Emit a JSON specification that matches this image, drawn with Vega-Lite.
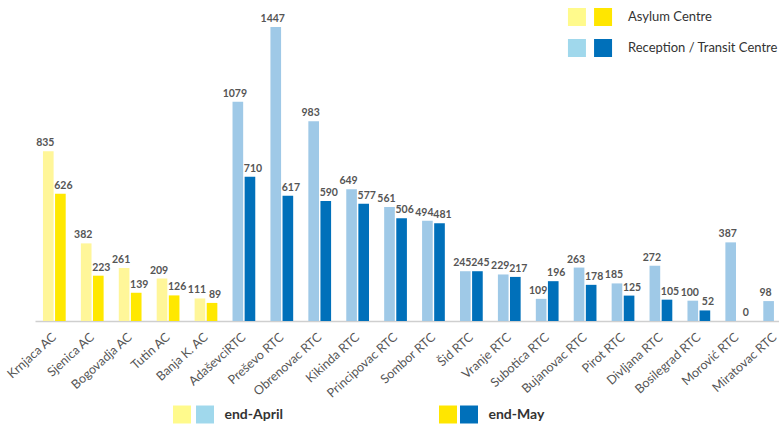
{
  "$schema": "https://vega.github.io/schema/vega-lite/v6.json",
  "autosize": {"type": "none"},
  "width": 744,
  "height": 294,
  "padding": {"left": 35, "top": 27, "right": 0, "bottom": 104},
  "background": "white",
  "config": {"view": {"stroke": null}, "font": "Lato"},
  "data": {"values": [
    {"centre": "Krnjaca AC", "type": "Asylum Centre", "period": "end-April", "value": 835},
    {"centre": "Krnjaca AC", "type": "Asylum Centre", "period": "end-May", "value": 626},
    {"centre": "Sjenica AC", "type": "Asylum Centre", "period": "end-April", "value": 382},
    {"centre": "Sjenica AC", "type": "Asylum Centre", "period": "end-May", "value": 223},
    {"centre": "Bogovadja AC", "type": "Asylum Centre", "period": "end-April", "value": 261},
    {"centre": "Bogovadja AC", "type": "Asylum Centre", "period": "end-May", "value": 139},
    {"centre": "Tutin AC", "type": "Asylum Centre", "period": "end-April", "value": 209},
    {"centre": "Tutin AC", "type": "Asylum Centre", "period": "end-May", "value": 126},
    {"centre": "Banja K. AC", "type": "Asylum Centre", "period": "end-April", "value": 111},
    {"centre": "Banja K. AC", "type": "Asylum Centre", "period": "end-May", "value": 89},
    {"centre": "AdaševciRTC", "type": "Reception / Transit Centre", "period": "end-April", "value": 1079},
    {"centre": "AdaševciRTC", "type": "Reception / Transit Centre", "period": "end-May", "value": 710},
    {"centre": "Preševo RTC", "type": "Reception / Transit Centre", "period": "end-April", "value": 1447},
    {"centre": "Preševo RTC", "type": "Reception / Transit Centre", "period": "end-May", "value": 617},
    {"centre": "Obrenovac RTC", "type": "Reception / Transit Centre", "period": "end-April", "value": 983},
    {"centre": "Obrenovac RTC", "type": "Reception / Transit Centre", "period": "end-May", "value": 590},
    {"centre": "Kikinda RTC", "type": "Reception / Transit Centre", "period": "end-April", "value": 649},
    {"centre": "Kikinda RTC", "type": "Reception / Transit Centre", "period": "end-May", "value": 577},
    {"centre": "Principovac RTC", "type": "Reception / Transit Centre", "period": "end-April", "value": 561},
    {"centre": "Principovac RTC", "type": "Reception / Transit Centre", "period": "end-May", "value": 506},
    {"centre": "Sombor RTC", "type": "Reception / Transit Centre", "period": "end-April", "value": 494},
    {"centre": "Sombor RTC", "type": "Reception / Transit Centre", "period": "end-May", "value": 481},
    {"centre": "Šid RTC", "type": "Reception / Transit Centre", "period": "end-April", "value": 245},
    {"centre": "Šid RTC", "type": "Reception / Transit Centre", "period": "end-May", "value": 245},
    {"centre": "Vranje RTC", "type": "Reception / Transit Centre", "period": "end-April", "value": 229},
    {"centre": "Vranje RTC", "type": "Reception / Transit Centre", "period": "end-May", "value": 217},
    {"centre": "Subotica RTC", "type": "Reception / Transit Centre", "period": "end-April", "value": 109},
    {"centre": "Subotica RTC", "type": "Reception / Transit Centre", "period": "end-May", "value": 196},
    {"centre": "Bujanovac RTC", "type": "Reception / Transit Centre", "period": "end-April", "value": 263},
    {"centre": "Bujanovac RTC", "type": "Reception / Transit Centre", "period": "end-May", "value": 178},
    {"centre": "Pirot RTC", "type": "Reception / Transit Centre", "period": "end-April", "value": 185},
    {"centre": "Pirot RTC", "type": "Reception / Transit Centre", "period": "end-May", "value": 125},
    {"centre": "Divljana RTC", "type": "Reception / Transit Centre", "period": "end-April", "value": 272},
    {"centre": "Divljana RTC", "type": "Reception / Transit Centre", "period": "end-May", "value": 105},
    {"centre": "Bosilegrad RTC", "type": "Reception / Transit Centre", "period": "end-April", "value": 100},
    {"centre": "Bosilegrad RTC", "type": "Reception / Transit Centre", "period": "end-May", "value": 52},
    {"centre": "Morović RTC", "type": "Reception / Transit Centre", "period": "end-April", "value": 387},
    {"centre": "Morović RTC", "type": "Reception / Transit Centre", "period": "end-May", "value": 0},
    {"centre": "Miratovac RTC", "type": "Reception / Transit Centre", "period": "end-April", "value": 98},
    {"centre": "Miratovac RTC", "type": "Reception / Transit Centre", "period": "end-May", "value": 0}
  ]},
  "transform": [{"calculate": "datum.type + ' ' + datum.period", "as": "series"}],
  "encoding": {
    "x": {
      "field": "centre", "type": "nominal", "sort": null,
      "scale": {"range": [0, 759], "paddingInner": 0.4, "paddingOuter": 0.21},
      "axis": {"title": null, "labelAngle": -42, "labelAlign": "right", "labelBaseline": "middle",
               "ticks": false, "domainColor": "#cfcfcf", "domainWidth": 1.5, "labelColor": "#555555",
               "labelFontSize": 12.5, "labelPadding": 14, "labelFont": "Lato"}
    },
    "xOffset": {"field": "period", "type": "nominal", "scale": {"domain": ["end-April", "end-May"], "paddingInner": 0.12}},
    "y": {"field": "value", "type": "quantitative", "scale": {"domain": [0, 1447], "nice": false}, "axis": null}
  },
  "layer": [
    {
      "mark": {"type": "bar"},
      "encoding": {
        "color": {
          "field": "series", "type": "nominal",
          "scale": {
            "domain": ["Asylum Centre end-April", "Asylum Centre end-May", "Reception / Transit Centre end-April", "Reception / Transit Centre end-May"],
            "range": ["#FFF699", "#FFE800", "#9FC9E7", "#0070BA"]
          },
          "legend": null
        }
      }
    },
    {
      "transform": [{"filter": "datum.period === 'end-April'"}],
      "mark": {"type": "text", "dy": -8, "dx": -3, "fontSize": 10.5, "fontWeight": "bold", "color": "#555555", "font": "Lato"},
      "encoding": {"text": {"field": "value", "type": "quantitative"}}
    },
    {
      "transform": [{"filter": "datum.period === 'end-May'"}],
      "mark": {"type": "text", "dy": -8, "dx": 3, "fontSize": 10.5, "fontWeight": "bold", "color": "#555555", "font": "Lato"},
      "encoding": {"text": {"field": "value", "type": "quantitative"}}
    },
    {
      "mark": {"type": "point", "filled": true, "opacity": 0},
      "encoding": {
        "color": {
          "field": "type", "type": "nominal",
          "scale": {"domain": ["Asylum Centre", "Reception / Transit Centre"], "range": ["#FFE600", "#0070BA"]},
          "legend": {
            "title": null, "orient": "none", "legendX": 546, "legendY": -19, "direction": "vertical",
            "padding": 0, "rowPadding": 13, "symbolType": "M0.45,-1h2v2h-2z",
            "symbolSize": 324, "symbolStrokeWidth": 0, "symbolOpacity": 1, "labelOffset": 29,
            "labelFont": "Lato", "labelFontSize": 13, "labelColor": "#333333", "labelLimit": 300
          }
        }
      }
    },
    {
      "mark": {"type": "point", "filled": true, "opacity": 0},
      "encoding": {
        "color": {
          "field": "type", "type": "nominal",
          "scale": {"domain": ["Asylum Centre", "Reception / Transit Centre"], "range": ["#FFFA8C", "#A0D8EC"]},
          "legend": {
            "title": null, "orient": "none", "legendX": 546, "legendY": -19, "direction": "vertical",
            "padding": 0, "rowPadding": 13, "symbolType": "M-2.45,-1h2v2h-2z",
            "symbolSize": 324, "symbolStrokeWidth": 0, "symbolOpacity": 1, "labelOffset": 29,
            "labelFont": "Lato", "labelFontSize": 13, "labelExpr": "''"
          }
        }
      }
    },
    {
      "mark": {"type": "point", "filled": true, "opacity": 0},
      "encoding": {
        "color": {
          "field": "period", "type": "nominal",
          "scale": {"domain": ["end-April", "end-May"], "range": ["#A0D8EC", "#0070BA"]},
          "legend": {
            "title": null, "orient": "none", "legendX": 149.5, "legendY": 378.5, "direction": "horizontal",
            "columns": 2, "columnPadding": 165,
            "padding": 0, "symbolType": "M0.28,-1h2v2h-2z",
            "symbolSize": 324, "symbolStrokeWidth": 0, "symbolOpacity": 1, "labelOffset": 22,
            "labelFont": "Lato", "labelFontSize": 14, "labelFontWeight": "bold", "labelColor": "#333333", "labelLimit": 300
          }
        }
      }
    },
    {
      "mark": {"type": "point", "filled": true, "opacity": 0},
      "encoding": {
        "color": {
          "field": "period", "type": "nominal",
          "scale": {"domain": ["end-April", "end-May"], "range": ["#FFFA8C", "#FFE600"]},
          "legend": {
            "title": null, "orient": "none", "legendX": 149.5, "legendY": 378.5, "direction": "horizontal",
            "columns": 2, "columnPadding": 214,
            "padding": 0, "symbolType": "M-2.28,-1h2v2h-2z",
            "symbolSize": 324, "symbolStrokeWidth": 0, "symbolOpacity": 1, "labelOffset": 22,
            "labelFont": "Lato", "labelFontSize": 14, "labelExpr": "''"
          }
        }
      }
    }
  ],
  "resolve": {"scale": {"color": "independent"}, "legend": {"color": "independent"}}
}
